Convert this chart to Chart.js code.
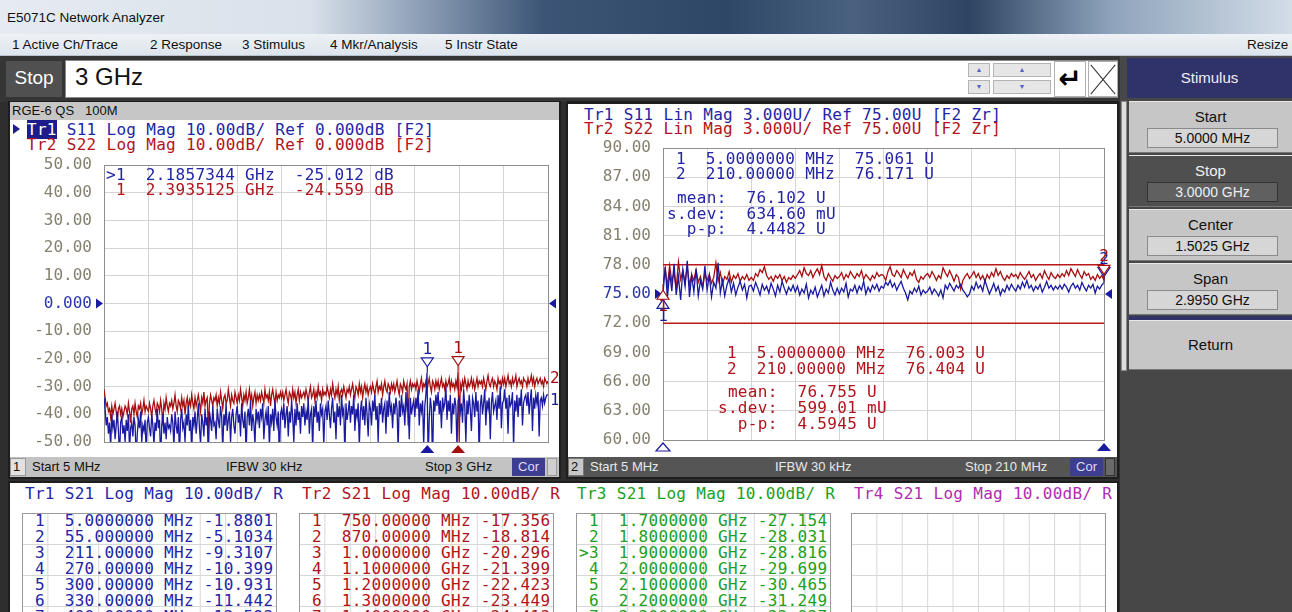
<!DOCTYPE html>
<html>
<head>
<meta charset="utf-8">
<title>E5071C Network Analyzer</title>
<script src="https://cdn.jsdelivr.net/npm/chart.js@4.4.0/dist/chart.umd.min.js"></script>
<style>
* { box-sizing: border-box; }
body { margin: 0; width: 1292px; height: 612px; overflow: hidden; position: relative;
       background: #2e2e2e; font-family: "Liberation Sans", Arial, sans-serif; }
.abs { position: absolute; }
.mono { position: absolute; font-family: "DejaVu Sans Mono", monospace; font-size: 16px;
        letter-spacing: 0.3px; line-height: 15px; white-space: pre; }
.ui { position: absolute; font-size: 13.5px; color: #111; white-space: pre; }
.blue { color: #2424a6; }
.red { color: #b0141c; }
.green { color: #20a020; }
.mag { color: #b02cb0; }
.hl { background: #1c1c8c; color: #fff; }
.btn { position: absolute; left: 1129px; width: 163px; height: 52px; background: #c6c6c6;
       border-top: 1px solid #e8e8e8; border-bottom: 1px solid #777; text-align: center; font-size: 15px; color: #111; }
.btn .lbl { position: absolute; left: 0; right: 0; top: 6px; }
.btn .val { position: absolute; left: 18px; width: 131px; top: 26px; height: 20px; background: #d6d6d6;
            border: 1px solid #8a8a8a; font-size: 14px; line-height: 18px; }
.btn.dark { background: #4f4f4f; color: #f2f2f2; }
.btn.dark .val { background: #606060; border-color: #333; color: #eee; }
.spin { position: absolute; height: 14px; background: #e6e6e6; border: 1px solid #b4b4b4;
        color: #5464c4; font-size: 7px; line-height: 12px; text-align: center; }
.tbl { position: absolute; top: 513px; width: 255px; height: 110px; border: 1px solid #9a9a9a;
       background-color: #fff;
       background-image: linear-gradient(to right, #d6d6d6 1px, transparent 1px),
                         linear-gradient(to bottom, #d6d6d6 1px, transparent 1px);
       background-size: 25.4px 31px; background-position: -1px -1px; }
</style>
</head>
<body>

<!-- window title and menu -->
<div class="abs" style="left:0;top:0;width:1292px;height:34px;background:linear-gradient(to right,#e6ebf1 0%,#d9e1ea 24%,#9aabc0 31%,#3c5576 42%,#2f4766 56%,#49617f 66%,#2d4462 75%,#8ea3bb 86%,#d3dde8 100%);"></div>
<div class="ui" style="left:7px;top:10px;">E5071C Network Analyzer</div>
<div class="abs" style="left:0;top:34px;width:1292px;height:22px;background:linear-gradient(#eef2f6,#dde4ec);border-bottom:1px solid #b8c2ce;"></div>
<div class="ui" style="left:12px;top:37px;">1 Active Ch/Trace</div>
<div class="ui" style="left:150px;top:37px;">2 Response</div>
<div class="ui" style="left:242px;top:37px;">3 Stimulus</div>
<div class="ui" style="left:330px;top:37px;">4 Mkr/Analysis</div>
<div class="ui" style="left:445px;top:37px;">5 Instr State</div>
<div class="ui" style="left:1247px;top:37px;">Resize</div>

<!-- entry bar -->
<div class="abs" style="left:0;top:56px;width:1120px;height:46px;background:#353535;"></div>
<div class="abs" style="left:6px;top:61px;width:56px;height:36px;background:#505050;color:#fff;font-size:19px;line-height:34px;text-align:center;">Stop</div>
<div class="abs" style="left:65px;top:60px;width:1053px;height:38px;background:#fff;border:1px solid #888;"></div>
<div class="abs" style="left:75px;top:63px;font-size:24px;color:#111;">3 GHz</div>
<div class="spin" style="left:968px;top:63px;width:22px;">&#9650;</div>
<div class="spin" style="left:968px;top:80px;width:22px;">&#9660;</div>
<div class="spin" style="left:993px;top:63px;width:58px;">&#9650;</div>
<div class="spin" style="left:993px;top:80px;width:58px;">&#9660;</div>
<div class="abs" style="left:1054px;top:61px;width:32px;height:36px;border:1px solid #b0b0b0;background:#fff;font-family:'DejaVu Sans';font-size:28px;line-height:34px;text-align:center;font-weight:bold;color:#000;">&#8629;</div>
<div class="abs" style="left:1088px;top:61px;width:30px;height:36px;border:1px solid #b0b0b0;background:#fff;overflow:hidden;">
  <div class="abs" style="left:-5px;top:17px;width:38px;height:1px;background:#333;transform:rotate(50deg);"></div>
  <div class="abs" style="left:-5px;top:17px;width:38px;height:1px;background:#333;transform:rotate(-50deg);"></div>
</div>

<!-- softkey side panel -->
<div class="abs" style="left:1120px;top:56px;width:172px;height:556px;background:#474747;"></div>
<div class="abs" style="left:1127px;top:58px;width:165px;height:40px;background:#30336a;color:#eef0f8;font-size:15px;line-height:40px;text-align:center;">Stimulus</div>
<div class="abs" style="left:1121px;top:101px;width:6px;height:270px;background:#dedede;border:1px solid #888;"></div>
<div class="btn" style="top:101px;"><div class="lbl">Start</div><div class="val">5.0000 MHz</div></div>
<div class="btn dark" style="top:155px;"><div class="lbl">Stop</div><div class="val">3.0000 GHz</div></div>
<div class="btn" style="top:209px;"><div class="lbl">Center</div><div class="val">1.5025 GHz</div></div>
<div class="btn" style="top:263px;"><div class="lbl">Span</div><div class="val">2.9950 GHz</div></div>
<div class="abs" style="left:1129px;top:316px;width:163px;height:4px;background:#30336a;"></div>
<div class="btn" style="top:320px;height:50px;"><div class="lbl" style="top:15px;">Return</div></div>

<!-- channel 1 window -->
<div class="abs" style="left:8px;top:101px;width:553px;height:378px;background:#1e1e1e;"></div>
<div class="abs" style="left:10px;top:102px;width:549px;height:18px;background:#c6c6c6;"></div>
<div class="ui" style="left:12px;top:103px;font-size:13px;">RGE-6 QS   100M</div>
<div class="abs" style="left:10px;top:120px;width:549px;height:337px;background:#fff;"></div>
<div class="abs" style="left:10px;top:457px;width:549px;height:20px;background:#c3c3c3;"></div>
<div class="abs" style="left:10px;top:458px;width:16px;height:18px;background:#e2e2e2;border:1px solid #999;"></div>
<div class="ui" style="left:13px;top:459px;font-size:13px;">1</div>
<div class="ui" style="left:32px;top:459px;font-size:13px;">Start 5 MHz</div>
<div class="ui" style="left:226px;top:459px;font-size:13px;">IFBW 30 kHz</div>
<div class="ui" style="left:425px;top:459px;font-size:13px;">Stop 3 GHz</div>
<div class="abs" style="left:512px;top:458px;width:33px;height:18px;background:#3e3e90;color:#dcdcf2;font-size:13px;line-height:18px;text-align:center;">Cor</div>
<div class="abs" style="left:547px;top:458px;width:10px;height:18px;background:#cfcfcf;border:1px solid #999;"></div>

<div class="abs" style="left:13px;top:124px;width:0;height:0;border-left:7px solid #1c1c8c;border-top:5px solid transparent;border-bottom:5px solid transparent;"></div>
<div class="mono blue" style="left:27px;top:122px;"><span class="hl">Tr1</span> S11 Log Mag 10.00dB/ Ref 0.000dB [F2]</div>
<div class="mono red" style="left:27px;top:137px;">Tr2 S22 Log Mag 10.00dB/ Ref 0.000dB [F2]</div>

<div class="abs" style="left:10px;top:150px;"><canvas id="ch1" width="548" height="305"></canvas></div>
<div class="mono blue" style="left:106px;top:167px;">&gt;1  2.1857344 GHz  -25.012 dB</div>
<div class="mono red" style="left:106px;top:182px;"> 1  2.3935125 GHz  -24.559 dB</div>

<!-- channel 2 window -->
<div class="abs" style="left:566px;top:101px;width:553px;height:378px;background:#1e1e1e;"></div>
<div class="abs" style="left:568px;top:104px;width:549px;height:353px;background:#fff;"></div>
<div class="abs" style="left:568px;top:457px;width:549px;height:20px;background:#555;"></div>
<div class="abs" style="left:568px;top:458px;width:16px;height:18px;background:#c8c8c8;border:1px solid #777;"></div>
<div class="ui" style="left:571px;top:459px;font-size:13px;">2</div>
<div class="ui" style="left:590px;top:459px;font-size:13px;color:#e8e8e8;">Start 5 MHz</div>
<div class="ui" style="left:775px;top:459px;font-size:13px;color:#e8e8e8;">IFBW 30 kHz</div>
<div class="ui" style="left:965px;top:459px;font-size:13px;color:#e8e8e8;">Stop 210 MHz</div>
<div class="abs" style="left:1070px;top:458px;width:33px;height:18px;background:#3e3e90;color:#dcdcf2;font-size:13px;line-height:18px;text-align:center;">Cor</div>
<div class="abs" style="left:1105px;top:458px;width:10px;height:18px;background:#6a6a6a;border:1px solid #333;"></div>

<div class="mono blue" style="left:584px;top:107px;">Tr1 S11 Lin Mag 3.000U/ Ref 75.00U [F2 Zr]</div>
<div class="mono red" style="left:584px;top:121px;">Tr2 S22 Lin Mag 3.000U/ Ref 75.00U [F2 Zr]</div>

<div class="abs" style="left:568px;top:135px;"><canvas id="ch2" width="548" height="318"></canvas></div>
<div class="mono blue" style="left:676px;top:151px;">1  5.0000000 MHz  75.061 U
2  210.00000 MHz  76.171 U</div>
<div class="mono blue" style="left:667px;top:190px;line-height:15.5px;"> mean:  76.102 U
s.dev:  634.60 mU
  p-p:  4.4482 U</div>
<div class="mono red" style="left:727px;top:345px;line-height:16px;">1  5.0000000 MHz  76.003 U
2  210.00000 MHz  76.404 U</div>
<div class="mono red" style="left:718px;top:384px;line-height:16px;"> mean:  76.755 U
s.dev:  599.01 mU
  p-p:  4.5945 U</div>

<!-- channel 3 window (marker tables) -->
<div class="abs" style="left:8px;top:481px;width:1111px;height:131px;background:#1e1e1e;"></div>
<div class="abs" style="left:10px;top:483px;width:1107px;height:129px;background:#fff;"></div>
<div class="mono blue" style="left:25px;top:486px;">Tr1 S21 Log Mag 10.00dB/ R</div>
<div class="mono red" style="left:302px;top:486px;">Tr2 S21 Log Mag 10.00dB/ R</div>
<div class="mono green" style="left:577px;top:486px;">Tr3 S21 Log Mag 10.00dB/ R</div>
<div class="mono mag" style="left:854px;top:486px;">Tr4 S21 Log Mag 10.00dB/ R</div>
<div class="tbl" style="left:22px;"></div>
<div class="tbl" style="left:299px;"></div>
<div class="tbl" style="left:576px;"></div>
<div class="tbl" style="left:851px;"></div>
<div id="t1" class="mono blue" style="left:25px;top:513px;line-height:16px;"></div>
<div id="t2" class="mono red" style="left:302px;top:513px;line-height:16px;"></div>
<div id="t3" class="mono green" style="left:579px;top:513px;line-height:16px;"></div>

<script>
// ---- channel 1 : S11 / S22 log mag, 5 MHz .. 3 GHz (dB) ----
const startL = 5, stopL = 3000;
const s11Left = [
  -34,-38,-44,-41,-47,-43,-52,-40,-45,-42,-49,-44,-39,-46,-55,-43,-41,-47,-44,-50,
  -42,-46,-40,-53,-45,-43,-48,-41,-44,-56,-47,-42,-45,-39,-50,-44,-46,-42,-54,-43,
  -41,-45,-48,-40,-44,-51,-43,-46,-38,-45,-42,-57,-44,-40,-47,-43,-49,-41,-45,-44,
  -46,-40,-43,-52,-39,-44,-47,-41,-55,-42,-38,-45,-43,-50,-40,-44,-37,-46,-42,-53,
  -41,-44,-39,-47,-42,-36,-45,-51,-40,-43,-48,-38,-44,-41,-56,-39,-42,-46,-37,-44,
  -43,-49,-38,-42,-45,-37,-41,-53,-40,-44,-36,-46,-42,-39,-50,-41,-38,-44,-47,-40,
  -37,-43,-40,-48,-36,-42,-45,-39,-54,-41,-38,-44,-35,-46,-40,-43,-51,-38,-42,-39,
  -45,-38,-41,-36,-49,-42,-39,-44,-37,-52,-40,-43,-38,-46,-35,-41,-44,-39,-57,-40,
  -38,-42,-36,-45,-40,-37,-48,-39,-43,-35,-41,-50,-38,-44,-36,-42,-39,-47,-37,-41,
  -36,-44,-39,-42,-34,-47,-40,-38,-53,-37,-41,-35,-43,-39,-46,-36,-40,-38,-51,-39,
  -37,-42,-35,-40,-45,-38,-34,-43,-39,-49,-36,-41,-37,-44,-33,-40,-38,-55,-36,-42,
  -39,-35,-43,-37,-40,-33,-46,-38,-41,-36,-52,-39,-35,-42,-37,-44,-34,-40,-48,-36,
  -38,-44,-35,-39,-33,-42,-37,-50,-36,-40,-34,-43,-38,-36,-47,-35,-41,-32,-39,-37,
  -45,-36,-40,-34,-38,-53,-35,-41,-33,-39,-37,-44,-32,-38,-36,-49,-34,-40,-37,-35,
  -41,-34,-38,-31,-44,-36,-39,-35,-51,-37,-33,-25,-56,-42,-34,-38,-58,-35,-39,-33,
  -37,-32,-40,-35,-45,-34,-38,-36,-30,-42,-35,-39,-33,-47,-36,-40,-34,-37,-52,-35,
  -34,-39,-36,-43,-31,-37,-50,-35,-40,-33,-38,-46,-34,-36,-41,-32,-39,-35,-55,-37,
  -33,-40,-36,-31,-44,-35,-38,-34,-49,-36,-32,-39,-37,-35,-42,-33,-38,-30,-45,-36,
  -35,-31,-38,-34,-47,-33,-37,-36,-32,-52,-35,-39,-33,-41,-34,-37,-31,-44,-36,-34,
  -33,-37,-32,-40,-35,-31,-46,-34,-38,-33,-36,-32,-48,-35,-34,-37,-33,-36,-34,-33,
  -33
];
const s22Left = [
  -31,-34,-37,-36,-39,-38,-41,-37,-40,-38,-36,-39,-42,-38,-37,-40,-38,-41,-39,-37,
  -38,-40,-36,-39,-43,-38,-37,-40,-36,-39,-41,-37,-38,-36,-40,-38,-35,-39,-37,-38,
  -39,-36,-38,-41,-37,-35,-38,-40,-36,-37,-39,-35,-38,-44,-36,-38,-34,-37,-39,-36,
  -37,-35,-38,-36,-33,-37,-39,-35,-36,-38,-34,-37,-35,-40,-36,-34,-38,-35,-37,-33,
  -36,-38,-34,-37,-35,-33,-36,-39,-34,-36,-32,-37,-35,-34,-46,-36,-33,-35,-37,-34,
  -35,-33,-37,-34,-36,-32,-35,-38,-34,-33,-36,-35,-31,-34,-37,-33,-35,-36,-32,-34,
  -36,-33,-35,-31,-34,-37,-33,-35,-32,-36,-34,-31,-35,-33,-37,-34,-32,-36,-33,-35,
  -33,-35,-32,-34,-36,-31,-34,-33,-35,-32,-37,-33,-31,-34,-36,-32,-35,-33,-34,-32,
  -34,-32,-35,-33,-31,-34,-36,-32,-33,-35,-31,-34,-32,-36,-33,-31,-35,-32,-34,-33,
  -32,-34,-31,-33,-35,-32,-30,-34,-33,-31,-35,-32,-34,-30,-33,-32,-35,-31,-33,-32,
  -33,-30,-32,-34,-31,-33,-29,-32,-34,-31,-33,-30,-35,-32,-31,-33,-30,-32,-34,-31,
  -32,-30,-33,-31,-29,-32,-34,-30,-31,-33,-29,-32,-30,-34,-31,-29,-32,-30,-33,-31,
  -30,-32,-29,-31,-33,-30,-28,-32,-30,-31,-29,-33,-30,-28,-31,-32,-29,-30,-32,-29,
  -31,-29,-32,-30,-28,-31,-33,-29,-30,-32,-28,-30,-31,-29,-44,-30,-28,-31,-29,-30,
  -29,-31,-28,-30,-32,-29,-27,-31,-29,-30,-28,-31,-29,-27,-30,-32,-28,-29,-31,-28,
  -30,-28,-31,-29,-27,-30,-29,-31,-28,-30,-29,-27,-31,-28,-30,-29,-31,-28,-30,-24.6,
  -50,-29,-31,-28,-30,-27,-29,-31,-28,-30,-29,-27,-30,-28,-31,-29,-27,-30,-28,-29,
  -28,-30,-27,-29,-31,-28,-26,-29,-30,-28,-27,-30,-28,-29,-31,-27,-29,-28,-30,-27,
  -29,-27,-30,-28,-26,-29,-28,-30,-27,-29,-28,-26,-30,-28,-27,-29,-28,-30,-27,-28,
  -28,-30,-27,-29,-28,-26,-29,-27,-30,-28,-27,-29,-28,-27,-29,-28,-30,-27,-28,-29,
  -28
];
const yTicksL = { min: -50, max: 50, step: 10, ref: 0 };
const markersL = [
  { trace: 0, label: '1', freq: 2185.7344, value: -25.012 },
  { trace: 1, label: '1', freq: 2393.5125, value: -24.559 }
];

// ---- channel 2 : S11 / S22 lin mag, 5 MHz .. 210 MHz (U) ----
const startR = 5, stopR = 210;
const s11Right = [
  75.06,77.8,74.6,77.2,75.3,78.1,74.9,76.8,74.4,77.5,75.8,78.4,74.7,76.9,75.2,77.6,74.8,76.4,75.5,77.9,
  75.4,76.9,74.7,76.2,75.6,78.2,75.1,76.4,74.8,75.9,76.6,75.2,76.1,74.9,75.7,76.3,75.4,76.0,74.6,75.8,
  75.9,75.3,76.2,75.6,74.9,76.0,75.4,75.8,75.1,76.1,75.5,74.8,75.9,75.2,76.3,75.6,75.0,75.7,75.3,75.9,
  75.2,75.8,74.9,75.5,75.1,76.0,74.6,75.4,75.0,75.7,74.7,75.3,75.9,74.8,75.5,75.1,76.2,75.4,74.9,75.6,
  75.0,75.6,75.2,76.1,74.7,75.5,75.3,75.9,75.1,75.8,75.4,76.3,75.0,75.7,75.2,75.9,75.5,76.0,75.3,75.8,
  75.6,76.2,75.9,76.4,75.7,76.1,75.4,75.9,76.3,75.6,75.1,74.4,75.3,75.0,75.6,75.2,75.8,74.9,75.4,75.1,
  75.3,75.7,75.0,75.5,75.2,74.8,75.4,74.6,75.9,75.5,76.1,75.7,75.3,75.9,75.6,76.0,75.4,75.1,74.7,75.0,
  75.8,75.4,76.2,75.6,75.9,75.3,76.4,75.7,75.0,75.5,76.1,75.3,75.8,74.9,75.5,75.2,75.9,75.4,76.0,75.6,
  75.3,75.9,75.5,76.2,75.7,76.4,75.6,75.9,75.3,75.8,75.5,76.0,75.2,75.7,76.3,75.6,75.9,75.4,75.8,75.5,
  75.9,75.5,76.0,75.7,75.2,75.8,76.1,75.6,75.9,75.4,76.2,75.7,75.3,75.9,75.6,76.0,75.1,75.8,75.5,75.9,
  76.171
];
const s22Right = [
  76.0,77.6,75.8,77.9,76.3,77.2,75.6,78.3,76.5,77.4,76.1,77.8,75.9,77.0,76.4,77.5,76.2,76.8,75.7,77.1,
  76.4,77.0,76.1,76.7,78.2,76.3,77.2,76.0,76.8,76.5,77.3,76.2,76.9,76.6,77.1,76.3,76.8,76.5,77.0,76.4,
  76.7,76.4,77.1,76.8,77.5,77.2,77.8,76.9,76.5,76.8,76.3,76.9,76.6,77.0,76.4,76.8,76.2,76.7,76.5,76.9,
  76.6,77.0,77.4,76.8,77.7,77.1,76.9,77.4,76.7,77.2,77.6,77.0,77.9,76.8,76.4,77.1,76.7,76.3,76.9,76.6,
  76.8,77.2,76.5,77.0,76.7,77.3,76.9,76.6,77.1,76.8,77.4,76.5,77.0,76.7,76.4,76.9,76.6,77.2,76.8,77.0,
  76.9,76.4,77.3,77.8,77.0,76.8,77.4,77.1,76.7,77.5,77.0,76.6,77.2,76.9,77.4,76.5,76.2,76.8,76.5,76.9,
  77.1,76.7,77.3,76.9,76.4,76.9,76.6,77.7,77.2,76.8,77.4,76.9,76.3,77.0,76.7,75.5,76.4,76.8,77.1,76.6,
  76.9,77.3,76.7,77.1,76.5,76.9,76.3,77.0,76.6,77.2,76.8,77.6,76.9,77.3,76.7,76.4,76.9,76.6,77.1,76.8,
  77.0,76.6,77.2,76.8,76.5,76.9,77.3,76.7,77.0,76.4,76.8,77.1,76.6,77.4,76.9,76.5,77.2,76.8,76.6,77.0,
  76.7,77.1,76.8,77.4,76.9,77.6,77.2,76.8,77.5,77.0,76.6,77.3,76.9,77.1,76.5,76.8,76.4,77.0,76.6,76.9,
  76.404
];
const yTicksR = { min: 60, max: 90, step: 3, ref: 75 };
const limitHighR = 78, limitLowR = 72;
const markersR = [
  { trace: 0, label: '1', freq: 5, value: 75.061 },
  { trace: 1, label: '1', freq: 5, value: 76.003 },
  { trace: 0, label: '2', freq: 210, value: 76.171 },
  { trace: 1, label: '2', freq: 210, value: 76.404 }
];

// ---- channel 3 marker tables ----
const tblNum = ['1', '2', '3', '4', '5', '6', '7'];
const tblNum3 = ['1', '2', '>3', '4', '5', '6', '7'];
const tbl1Freq = ['5.0000000 MHz', '55.000000 MHz', '211.00000 MHz', '270.00000 MHz', '300.00000 MHz', '330.00000 MHz', '400.00000 MHz'];
const tbl1Val = ['-1.8801', '-5.1034', '-9.3107', '-10.399', '-10.931', '-11.442', '-12.593'];
const tbl2Freq = ['750.00000 MHz', '870.00000 MHz', '1.0000000 GHz', '1.1000000 GHz', '1.2000000 GHz', '1.3000000 GHz', '1.4000000 GHz'];
const tbl2Val = ['-17.356', '-18.814', '-20.296', '-21.399', '-22.423', '-23.449', '-24.413'];
const tbl3Freq = ['1.7000000 GHz', '1.8000000 GHz', '1.9000000 GHz', '2.0000000 GHz', '2.1000000 GHz', '2.2000000 GHz', '2.3000000 GHz'];
const tbl3Val = ['-27.154', '-28.031', '-28.816', '-29.699', '-30.465', '-31.249', '-32.037'];

function tableText(nums, freqs, vals) {
    return nums.map((n, i) => n.padStart(2) + '  ' + freqs[i] + ' ' + vals[i].padStart(7)).join('\n');
}
document.getElementById('t1').textContent = tableText(tblNum, tbl1Freq, tbl1Val);
document.getElementById('t2').textContent = tableText(tblNum, tbl2Freq, tbl2Val);
document.getElementById('t3').textContent = tableText(tblNum3, tbl3Freq, tbl3Val);

// ---- drawing ----
const BLUE = '#1a1aa0';
const RED = '#a50f0f';
const GRID = '#d4d4d4';
const TICK_GRAY = '#86806f';
const MONO = '"DejaVu Sans Mono", monospace';

// sweep points are linear between start and stop
function sweep(start, stop, n) {
    return Array.from({ length: n }, (_, i) => start + i * (stop - start) / (n - 1));
}

function tri(ctx, pts, fill, stroke) {
    ctx.beginPath();
    ctx.moveTo(pts[0][0], pts[0][1]);
    ctx.lineTo(pts[1][0], pts[1][1]);
    ctx.lineTo(pts[2][0], pts[2][1]);
    ctx.closePath();
    if (fill) { ctx.fillStyle = fill; ctx.fill(); }
    if (stroke) { ctx.strokeStyle = stroke; ctx.lineWidth = 1.2; ctx.stroke(); }
}

const framePlugin = {
    id: 'frame',
    beforeDatasetsDraw(chart) {
        const { ctx, chartArea: a } = chart;
        ctx.save();
        ctx.strokeStyle = '#8e8e8e';
        ctx.lineWidth = 1;
        ctx.strokeRect(Math.round(a.left) + 0.5, Math.round(a.top) + 0.5, Math.round(a.width), Math.round(a.height));
        ctx.restore();
    }
};

const vnaPlugin = {
    id: 'vna',
    afterDatasetsDraw(chart, args, o) {
        const { ctx, chartArea: a } = chart;
        const xs = chart.scales.x, ys = chart.scales.y;
        ctx.save();
        // reference level pointers on both sides
        const ry = ys.getPixelForValue(o.ref);
        tri(ctx, [[a.left - 8, ry - 5], [a.left - 8, ry + 5], [a.left - 1, ry]], BLUE);
        tri(ctx, [[a.right + 8, ry - 5], [a.right + 8, ry + 5], [a.right + 1, ry]], BLUE);

        ctx.font = '16px ' + MONO;
        ctx.textAlign = 'center';
        ctx.textBaseline = 'middle';
        o.markers.forEach(m => {
            const px = xs.getPixelForValue(m.freq);
            const py = ys.getPixelForValue(m.value);
            const col = o.colors[m.trace];
            const s = m.freq <= xs.min ? 1 : -1;   // start-of-sweep markers hang below the trace
            ctx.strokeStyle = col;
            ctx.lineWidth = 1.2;
            ctx.beginPath();
            ctx.moveTo(px, py);
            ctx.lineTo(px, py + s * 6);
            ctx.stroke();
            tri(ctx, [[px, py + s * 6], [px - 6, py + s * 15], [px + 6, py + s * 15]], '#fff', col);
            ctx.fillStyle = col;
            ctx.fillText(m.label, px, py + s * 23);
        });
        // marker stimulus pointers under the grid
        o.axisMarks.forEach(k => {
            const m = o.markers[k.i];
            const px = xs.getPixelForValue(m.freq);
            const col = o.colors[m.trace];
            const pts = [[px - 7, a.bottom + 11], [px + 7, a.bottom + 11], [px, a.bottom + 3]];
            if (k.fill) tri(ctx, pts, col); else tri(ctx, pts, '#fff', col);
        });
        // trace number tags at the end of the sweep
        if (o.endTags) {
            ctx.textAlign = 'left';
            chart.data.datasets.forEach((ds, i) => {
                if (i > 1) return;
                const v = ds.data[ds.data.length - 1];
                ctx.fillStyle = o.colors[i];
                ctx.fillText(String(i + 1), a.right + 2, ys.getPixelForValue(v) + (i === 0 ? 6 : -2));
            });
        }
        ctx.restore();
    }
};

function scalesFor(xMin, xMax, yt, yWidth) {
    return {
        x: {
            type: 'linear', min: xMin, max: xMax,
            afterBuildTicks: axis => {
                axis.ticks = Array.from({ length: 11 }, (_, i) => ({ value: xMin + i * (xMax - xMin) / 10 }));
            },
            afterFit: axis => {
                axis.height = 0;
                axis.paddingLeft = 0;
                axis.paddingRight = 0;
            },
            ticks: { display: false },
            grid: { color: GRID, drawTicks: false },
            border: { display: false }
        },
        y: {
            min: yt.min, max: yt.max,
            afterFit: axis => {
                axis.width = yWidth;
                axis.paddingTop = 0;
                axis.paddingBottom = 0;
            },
            ticks: {
                stepSize: yt.step,
                padding: 12,
                font: { family: MONO, size: 16 },
                color: ctx => ctx.tick && ctx.tick.value === yt.ref ? '#2a36b0' : TICK_GRAY,
                callback: v => (v === 0 ? '0.000' : Number(v).toFixed(2))
            },
            grid: { color: GRID, drawTicks: false },
            border: { display: false }
        }
    };
}

function trace(label, data, color) {
    return { label: label, data: data, borderColor: color, borderWidth: 1.3, pointRadius: 0, tension: 0, fill: false };
}

new Chart(document.getElementById('ch1'), {
    type: 'line',
    data: {
        labels: sweep(startL, stopL, s11Left.length),
        datasets: [trace('Tr1 S11', s11Left, BLUE), trace('Tr2 S22', s22Left, RED)]
    },
    options: {
        responsive: false,
        animation: false,
        layout: { padding: { left: 0, right: 10, top: 15, bottom: 13 } },
        scales: scalesFor(startL, stopL, yTicksL, 94),
        plugins: {
            legend: { display: false },
            tooltip: { enabled: false },
            vna: { ref: yTicksL.ref, markers: markersL, colors: [BLUE, RED],
                   axisMarks: [{ i: 0, fill: true }, { i: 1, fill: true }], endTags: true }
        }
    },
    plugins: [framePlugin, vnaPlugin]
});

new Chart(document.getElementById('ch2'), {
    type: 'line',
    data: {
        labels: sweep(startR, stopR, s11Right.length),
        datasets: [
            trace('Tr1 S11', s11Right, BLUE),
            trace('Tr2 S22', s22Right, RED),
            { label: 'upper limit', data: [{ x: startR, y: limitHighR }, { x: stopR, y: limitHighR }],
              borderColor: '#b81818', borderWidth: 1.5, pointRadius: 0 },
            { label: 'lower limit', data: [{ x: startR, y: limitLowR }, { x: stopR, y: limitLowR }],
              borderColor: '#b81818', borderWidth: 1.5, pointRadius: 0 }
        ]
    },
    options: {
        responsive: false,
        animation: false,
        layout: { padding: { left: 0, right: 12, top: 13, bottom: 13 } },
        scales: scalesFor(startR, stopR, yTicksR, 95),
        plugins: {
            legend: { display: false },
            tooltip: { enabled: false },
            vna: { ref: yTicksR.ref, markers: markersR, colors: [BLUE, RED],
                   axisMarks: [{ i: 0, fill: false }, { i: 2, fill: true }], endTags: false }
        }
    },
    plugins: [framePlugin, vnaPlugin]
});
</script>
</body>
</html>
